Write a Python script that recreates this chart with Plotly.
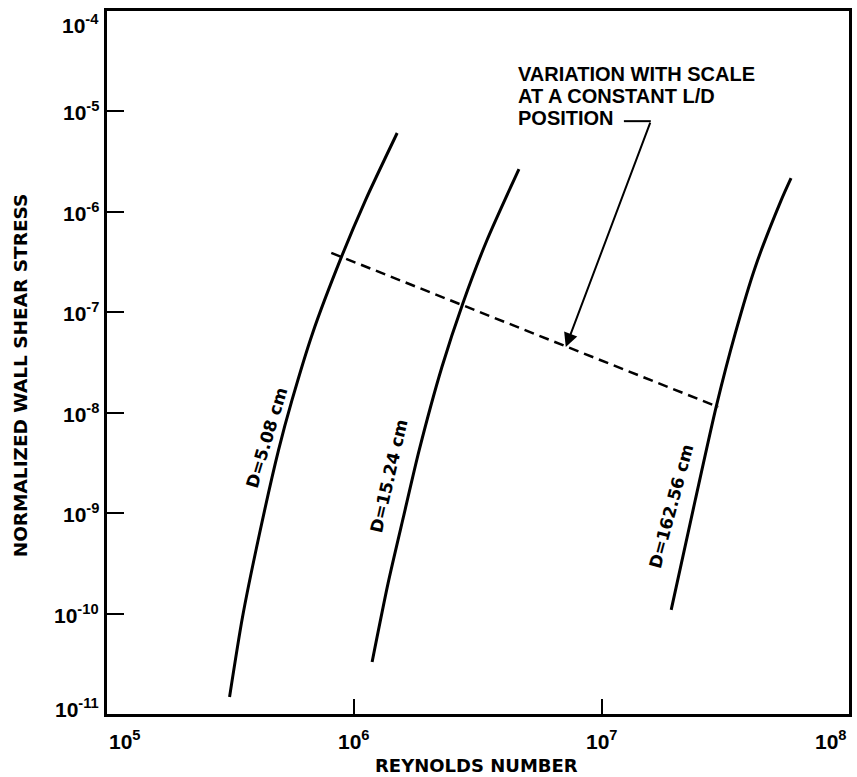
import plotly.graph_objects as go
import numpy as np

# Reynolds number / normalized wall shear stress
re_d508 = [3.13e5, 3.53e5, 4.14e5, 4.94e5, 5.6e5, 6.78e5, 8.87e5, 1.11e6, 1.49e6]
tau_d508 = [1.48e-11, 9.2e-11, 6.3e-10, 4.26e-9, 1.34e-8, 6.2e-8, 3.56e-7, 1.31e-6, 6.1e-6]

re_d1524 = [1.18e6, 1.37e6, 1.58e6, 1.83e6, 2.26e6, 2.75e6, 3.44e6, 4.63e6]
tau_d1524 = [3.3e-11, 2.02e-10, 9.2e-10, 4.26e-9, 2.85e-8, 1.24e-7, 5.25e-7, 2.67e-6]

re_d16256 = [1.91e7, 2.39e7, 2.91e7, 3.47e7, 4.18e7, 5.32e7, 5.83e7]
tau_d16256 = [1.09e-10, 1.35e-9, 1.17e-8, 6.2e-8, 2.83e-7, 1.31e-6, 2.17e-6]

# constant L/D line
re_const = [8.07e5, 2.96e7]
tau_const = [3.9e-7, 1.14e-8]

# curve labels
curve_labels = ["D=5.08 cm", "D=15.24 cm", "D=162.56 cm"]
label_re = [4.42e5, 1.38e6, 1.91e7]
label_tau = [5.6e-9, 2.34e-9, 1.18e-9]
label_angle = [-73, -77, -75]

# callout text lines and leader (bracket + arrow)
callout_lines = ["VARIATION WITH SCALE", "AT A CONSTANT L/D", "POSITION"]
callout_re = 4.5e6
callout_tau = [2.36e-5, 1.43e-5, 8.6e-6]
leader_re = [1.23e7, 1.58e7, 7.16e6]
leader_tau = [8.0e-6, 8.0e-6, 4.5e-8]

# ticks
x_tickvals = [1e5, 1e6, 1e7, 1e8]
x_ticktext = ["10<sup>5</sup>", "10<sup>6</sup>", "10<sup>7</sup>", "10<sup>8</sup>"]
y_tickvals = [1e-11, 1e-10, 1e-9, 1e-8, 1e-7, 1e-6, 1e-5, 1e-4]
y_ticktext = ["10<sup>-11</sup>", "10<sup>-10</sup>", "10<sup>-9</sup>", "10<sup>-8</sup>",
              "10<sup>-7</sup>", "10<sup>-6</sup>", "10<sup>-5</sup>", "10<sup>-4</sup>"]

TXT = "DejaVu Sans"
NUM = "Liberation Sans"

fig = go.Figure()

for re, tau in [(re_d508, tau_d508), (re_d1524, tau_d1524), (re_d16256, tau_d16256)]:
    fig.add_trace(go.Scatter(x=re, y=tau, mode="lines",
                             line=dict(color="black", width=3, shape="spline", smoothing=0.7),
                             hoverinfo="skip"))

fig.add_trace(go.Scatter(x=re_const, y=tau_const, mode="lines",
                         line=dict(color="black", width=2.5, dash="10px,6px"),
                         hoverinfo="skip"))

# bracket next to "POSITION"
fig.add_trace(go.Scatter(x=leader_re[:2], y=leader_tau[:2], mode="lines",
                         line=dict(color="black", width=2), hoverinfo="skip"))

# arrow from bracket down to the dashed line
fig.add_annotation(x=np.log10(leader_re[2]), y=np.log10(leader_tau[2]),
                   ax=np.log10(leader_re[1]), ay=np.log10(leader_tau[1]),
                   xref="x", yref="y", axref="x", ayref="y",
                   text="", showarrow=True, arrowhead=2, arrowsize=1.4,
                   arrowwidth=2, arrowcolor="black", standoff=0)

for line, yt in zip(callout_lines, callout_tau):
    fig.add_annotation(x=np.log10(callout_re), y=np.log10(yt), xref="x", yref="y",
                       text=line, showarrow=False, xanchor="left", yanchor="middle",
                       font=dict(family=NUM, size=20, color="black", weight="bold"))

for lab, xr, yt, ang in zip(curve_labels, label_re, label_tau, label_angle):
    fig.add_annotation(x=np.log10(xr), y=np.log10(yt), xref="x", yref="y",
                       text=lab, showarrow=False, textangle=ang,
                       xanchor="center", yanchor="middle",
                       font=dict(family=TXT, size=17, color="black", weight="bold"))

# x tick labels (edge labels hug the plot edges)
x_anchor = ["left", "center", "center", "right"]
for v, t, anc in zip(x_tickvals, x_ticktext, x_anchor):
    fig.add_annotation(x=np.log10(v), y=-0.016, xref="x", yref="paper",
                       text=t, showarrow=False, xanchor=anc, yanchor="top",
                       font=dict(family=NUM, size=21, color="black", weight="bold"))

# y tick labels (end labels pulled inside the axis span)
y_shift = [6, 0, 0, 0, 0, 0, 0, -13]
for v, t, sh in zip(y_tickvals, y_ticktext, y_shift):
    fig.add_annotation(x=-0.008, y=np.log10(v), xref="paper", yref="y",
                       text=t, showarrow=False, xanchor="right", yanchor="middle",
                       yshift=sh,
                       font=dict(family=NUM, size=21, color="black", weight="bold"))

# axis titles
fig.add_annotation(x=0.498, y=-0.056, xref="paper", yref="paper",
                   text="REYNOLDS NUMBER", showarrow=False, xanchor="center", yanchor="top",
                   font=dict(family=TXT, size=18, color="black", weight="bold"))
fig.add_annotation(x=-0.117, y=0.482, xref="paper", yref="paper",
                   text="NORMALIZED WALL SHEAR STRESS", showarrow=False, textangle=-90,
                   xanchor="center", yanchor="middle",
                   font=dict(family=TXT, size=18.5, color="black", weight="bold"))

fig.update_layout(
    width=857, height=777,
    margin=dict(l=107, r=5, t=11, b=63),
    showlegend=False,
    plot_bgcolor="white", paper_bgcolor="white",
    xaxis=dict(type="log", range=[5, 8], showgrid=False, zeroline=False,
               showline=True, linecolor="black", linewidth=3, mirror=True,
               ticks="inside", ticklen=15, tickwidth=2, tickcolor="black",
               tickvals=x_tickvals, showticklabels=False),
    yaxis=dict(type="log", range=[-11, -4], showgrid=False, zeroline=False,
               showline=True, linecolor="black", linewidth=3, mirror=True,
               ticks="inside", ticklen=17, tickwidth=2, tickcolor="black",
               tickvals=y_tickvals, showticklabels=False),
)

# drop the default page margin so the figure sits at the window's top-left
fig.write_html("out.html", config={"displayModeBar": False},
               post_script="document.body.style.margin='0px';")
